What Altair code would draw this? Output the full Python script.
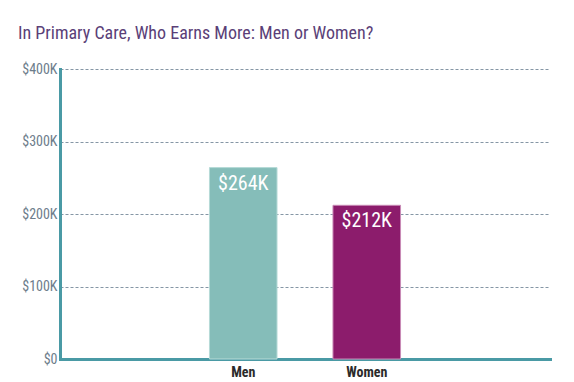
import altair as alt
import pandas as pd

categories = ["Men", "Women"]
earnings = [264000, 212000]
labels = ["$264K", "$212K"]
colors = ["#85bdb9", "#8c1c6c"]

df = pd.DataFrame({"cat": categories, "val": earnings, "lab": labels})
x_domain = ["_a"] + categories + ["_b"]

FONT = "Roboto Condensed, Liberation Sans Narrow, Roboto"

xscale = alt.Scale(domain=x_domain, paddingInner=0.453, paddingOuter=0.21)

x = alt.X("cat:N", title=None, scale=xscale,
          axis=alt.Axis(labelAngle=0, labelFontWeight="bold", labelColor="#2b2b2b",
                        labelFontSize=14, labelFont=FONT, ticks=False, labelPadding=6,
                        labelExpr="indexof(datum.label, '_') == 0 ? '' : datum.label",
                        domainColor="#4a9aa5", domainWidth=3))

bars = alt.Chart(df).mark_bar(strokeWidth=1).encode(
    x=x,
    y=alt.Y("val:Q", title=None, scale=alt.Scale(domain=[0, 400000]),
            axis=alt.Axis(values=[0, 100000, 200000, 300000, 400000],
                          labelExpr="datum.value == 0 ? '$0' : '$' + (datum.value/1000) + 'K'",
                          labelColor="#6d7d8b", labelFontSize=14, labelFont=FONT,
                          ticks=False, labelPadding=3,
                          domainColor="#4a9aa5", domainWidth=3,
                          grid=True, gridColor="#8596a5", gridDash=[3, 2], gridWidth=1)),
    color=alt.Color("cat:N", scale=alt.Scale(domain=categories, range=colors), legend=None),
    stroke=alt.Stroke("cat:N", scale=alt.Scale(domain=categories, range=["#b6dad7", "#c98bb6"]), legend=None),
)

text = alt.Chart(df).mark_text(baseline="top", dy=6, color="white", fontSize=20, font=FONT).encode(
    x=alt.X("cat:N", scale=xscale),
    y="val:Q",
    text="lab:N",
)

chart = (bars + text).properties(
    width=490, height=290,
    autosize=alt.AutoSizeParams(type="none"),
    padding={"left": 52, "top": 61, "right": 10, "bottom": 22},
    title=alt.TitleParams("In Primary Care, Who Earns More: Men or Women?", anchor="start",
                          frame="group", dx=-42, offset=19, fontSize=18, fontWeight="normal",
                          color="#5b3f78", font=FONT),
).configure_view(stroke=None).configure_axis(domainCap="square")

chart.save("out.html", embed_options={"renderer": "svg", "actions": False})
